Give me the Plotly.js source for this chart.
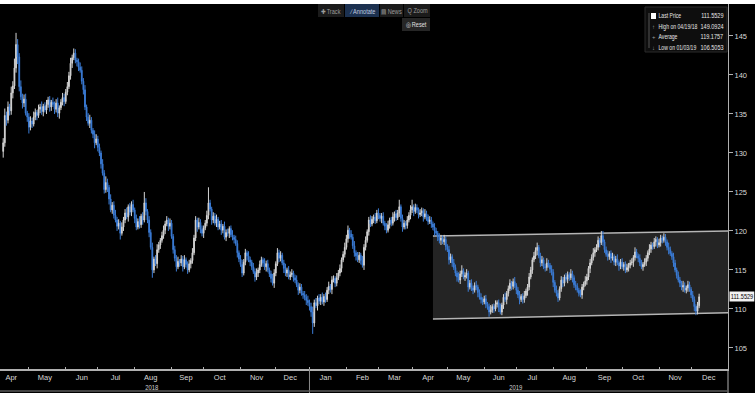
<!DOCTYPE html>
<html><head><meta charset="utf-8">
<script src="https://cdn.plot.ly/plotly-3.0.1.min.js"></script>
<style>html,body{margin:0;padding:0;background:#000;overflow:hidden}#chart{width:755px;height:393px}</style>
</head><body><div id="chart"></div>
<script>
// ---------- data ----------
const startDate = '2018-04-09';          // first trading day shown
const firstOpen = 130.2;
const closes = [
131.3,134.8,134.2,135.9,135.4,137.7,138.6,140.9,143.9,142.3,
138.5,137.2,136.4,136.9,135.1,134.6,133.3,134.1,133.7,134.6,
135.2,134.8,135.6,135.9,135.3,136.0,135.5,136.2,136.8,135.9,
136.5,136.2,135.6,136.4,135.1,135.8,136.5,137.1,136.6,137.8,
138.5,139.9,141.5,142.2,142.8,141.9,141.7,141.0,140.6,139.2,
138.1,135.9,134.6,133.8,134.2,132.9,132.4,131.3,131.8,130.7,
130.0,128.6,127.4,125.3,126.2,125.6,124.1,122.7,123.3,122.0,
121.4,120.6,121.0,119.7,120.5,121.4,122.3,121.8,123.1,122.4,
123.4,122.7,121.6,120.5,121.2,120.8,121.9,121.4,123.6,122.5,
121.4,119.8,117.9,115.0,116.4,115.8,117.6,118.2,118.8,119.4,
120.1,120.9,121.4,120.6,121.0,119.3,117.6,116.5,115.4,116.1,
115.9,116.4,115.4,116.3,115.7,115.0,115.8,116.2,117.2,119.1,
121.4,120.5,121.1,120.2,119.7,120.4,121.0,122.0,123.6,122.8,
121.4,121.9,121.0,121.5,120.5,120.9,120.1,120.6,119.2,119.8,
119.7,120.3,119.5,119.2,118.9,118.4,117.2,116.4,115.7,114.6,
116.0,117.2,116.8,116.3,116.0,115.4,114.8,114.1,114.6,115.0,
115.7,116.3,115.9,115.4,115.8,115.0,114.5,113.9,113.3,114.6,
115.8,117.2,116.5,116.9,115.9,115.2,114.6,115.0,114.1,114.4,
114.6,114.0,113.7,113.1,112.4,112.8,112.0,111.8,111.5,111.1,
110.8,110.3,109.6,108.2,110.8,110.4,111.4,111.0,111.5,110.9,
111.6,111.2,112.4,112.9,112.5,113.7,113.9,113.3,114.0,114.6,
115.2,116.3,117.0,117.9,119.0,120.1,119.6,119.2,118.1,117.2,
116.8,116.3,116.9,116.2,115.6,117.9,118.8,119.9,121.4,120.9,
121.5,121.8,121.3,122.3,122.0,121.6,121.9,121.0,120.6,120.1,
120.8,121.4,121.0,121.8,122.2,121.7,122.3,123.1,121.6,120.5,
121.0,120.7,121.4,122.0,122.7,123.1,122.5,123.0,122.7,122.1,
122.3,122.6,121.8,122.2,121.8,121.2,121.4,120.9,120.5,120.0,
119.7,119.2,118.8,119.1,118.6,118.9,118.0,117.6,116.3,116.7,
115.9,115.3,114.6,114.1,113.7,114.5,114.9,114.1,114.3,114.6,
112.8,113.3,112.7,112.4,113.0,112.8,112.1,111.5,111.2,110.9,
111.3,110.6,110.3,109.6,109.9,110.3,110.0,110.6,110.8,110.2,
109.6,110.5,111.5,111.2,112.0,112.6,113.3,112.9,113.5,113.0,
112.4,111.8,111.2,111.6,111.2,111.7,112.3,112.8,114.1,115.0,
116.3,116.8,117.5,117.9,116.8,115.9,116.3,115.4,115.3,115.9,
115.6,115.1,114.7,113.4,112.4,112.0,111.4,112.6,113.7,113.3,
114.1,113.8,114.4,114.0,114.5,114.0,113.1,112.9,112.4,112.0,
111.8,112.8,113.2,113.6,114.1,115.2,115.9,116.6,117.2,117.6,
117.9,118.8,118.5,119.4,118.6,117.6,117.0,116.7,117.1,116.5,
116.7,116.0,116.4,115.9,115.5,116.0,115.4,115.7,115.0,115.3,
115.6,115.9,116.0,116.6,117.3,116.8,116.5,115.9,115.4,115.7,
116.0,116.5,117.2,117.7,118.2,118.0,118.6,118.9,118.2,118.5,
119.1,118.8,119.2,118.6,117.9,117.6,117.1,116.7,115.9,115.0,
114.3,113.7,113.3,112.8,113.0,112.4,112.7,113.1,112.5,111.8,
111.2,110.3,109.7,110.4,111.5529
];
// intraday wick lengths above / below the candle body (price units)
const upWick = [
0.6,0.9,0.5,0.7,0.4,0.8,0.6,1.2,1.5,0.7, 0.5,0.8,0.4,0.6,0.7,0.3,0.5,0.6,0.4,0.7,
0.5,0.3,0.6,0.4,0.7,0.3,0.5,0.6,0.4,0.5, 0.3,0.6,0.4,0.5,0.7,0.3,0.4,0.6,0.5,0.4,
0.6,0.5,0.7,0.4,0.6,0.5,0.3,0.4,0.6,0.5, 0.4,0.6,0.3,0.5,0.7,0.4,0.3,0.5,0.6,0.4,
0.5,0.3,0.6,0.4,0.8,0.5,0.3,0.6,0.4,0.5, 0.7,0.4,0.5,0.3,0.6,0.4,0.5,0.7,0.3,0.5,
0.4,0.6,0.3,0.5,0.4,0.7,0.3,0.5,0.4,0.6, 0.3,0.5,0.4,0.6,0.3,0.5,0.7,0.4,0.3,0.5,
0.6,0.4,0.5,0.3,0.6,0.4,0.3,0.5,0.4,0.6, 0.3,0.5,0.4,0.6,0.3,0.4,0.5,0.3,0.6,0.4,
0.5,0.3,0.6,0.4,0.5,0.3,0.4,0.6,0.5,0.4, 0.3,0.5,0.4,0.6,0.3,0.4,0.5,0.3,0.6,0.4,
0.5,0.3,0.4,0.6,0.3,0.5,0.4,0.3,0.5,0.6, 0.4,0.5,0.3,0.6,0.4,0.3,0.5,0.4,0.6,0.3,
0.5,0.4,0.3,0.6,0.4,0.5,0.3,0.4,0.6,0.5, 0.3,0.6,0.4,0.5,0.3,0.4,0.6,0.3,0.5,0.4,
0.5,0.3,0.4,0.6,0.3,0.5,0.4,0.3,0.5,0.4, 0.6,0.4,0.5,0.7,0.4,0.6,0.3,0.5,0.4,0.6,
0.3,0.5,0.4,0.6,0.3,0.5,0.4,0.3,0.6,0.4, 0.5,0.3,0.4,0.6,0.5,0.4,0.3,0.5,0.4,0.6,
0.3,0.5,0.4,0.3,0.6,0.4,0.5,0.3,0.4,0.6, 0.4,0.3,0.5,0.4,0.6,0.3,0.4,0.5,0.3,0.4,
0.5,0.3,0.4,0.6,0.3,0.5,0.4,0.6,0.3,0.5, 0.4,0.3,0.5,0.4,0.6,0.7,0.3,0.5,0.4,0.3,
0.5,0.4,0.3,0.6,0.4,0.3,0.5,0.4,0.3,0.5, 0.4,0.3,0.5,0.4,0.3,0.6,0.4,0.3,0.5,0.4,
0.3,0.5,0.4,0.3,0.6,0.4,0.7,0.3,0.4,0.5, 0.3,0.4,0.5,0.3,0.4,0.6,0.3,0.4,0.5,0.3,
0.4,0.5,0.3,0.4,0.6,0.3,0.4,0.5,0.3,0.4, 0.5,0.3,0.4,0.6,0.3,0.4,0.5,0.3,0.4,0.6,
0.3,0.4,0.5,0.3,0.4,0.6,0.3,0.4,0.5,0.4, 0.3,0.5,0.4,0.6,0.3,0.4,0.5,0.3,0.4,0.6,
0.4,0.3,0.5,0.4,0.3,0.6,0.4,0.3,0.5,0.4, 0.3,0.5,0.4,0.3,0.6,0.4,0.3,0.5,0.4,0.3,
0.5,0.4,0.3,0.6,0.4,0.3,0.5,0.4,0.6,0.3, 0.4,0.5,0.3,0.4,0.6,0.3,0.4,0.5,0.3,0.4,
0.5,0.3,0.4,0.6,0.3,0.4,0.5,0.3,0.4,0.5, 0.3,0.4,0.5,0.3,0.6,0.4,0.3,0.5,0.4,0.3,
0.5,0.4,0.3,0.6,0.4,0.3,0.5,0.4,0.3,0.5, 0.4,0.3,0.5,0.4,0.3,0.6,0.4,0.3,0.5,0.4,
0.3,0.5,0.4,0.3,0.6,0.4,0.3,0.5,0.4,0.3, 0.5,0.4,0.3,0.5,0.4
];
const downWick = [
0.8,0.5,0.7,0.4,0.6,0.5,0.7,0.4,0.6,0.9, 0.6,0.4,0.7,0.5,0.3,0.6,0.8,0.4,0.5,0.3,
0.4,0.6,0.3,0.5,0.4,0.6,0.3,0.5,0.4,0.6, 0.5,0.3,0.6,0.4,0.5,0.7,0.3,0.4,0.6,0.3,
0.4,0.3,0.5,0.6,0.3,0.4,0.6,0.5,0.3,0.4, 0.6,0.4,0.5,0.3,0.6,0.4,0.5,0.7,0.3,0.5,
0.4,0.6,0.3,0.5,0.4,0.6,0.7,0.3,0.5,0.4, 0.3,0.6,0.4,0.8,0.3,0.5,0.4,0.3,0.6,0.4,
0.5,0.3,0.6,0.4,0.3,0.5,0.4,0.6,0.3,0.5, 0.4,0.6,0.3,0.5,0.4,0.3,0.6,0.4,0.5,0.3,
0.4,0.5,0.3,0.6,0.4,0.3,0.5,0.4,0.6,0.3, 0.5,0.4,0.6,0.3,0.4,0.5,0.3,0.6,0.4,0.3,
0.4,0.6,0.3,0.5,0.4,0.6,0.3,0.4,0.5,0.3, 0.6,0.4,0.3,0.5,0.4,0.3,0.6,0.4,0.3,0.5,
0.4,0.6,0.3,0.4,0.5,0.3,0.6,0.4,0.3,0.5, 0.3,0.4,0.6,0.3,0.5,0.4,0.3,0.6,0.4,0.5,
0.4,0.3,0.5,0.4,0.6,0.3,0.4,0.5,0.3,0.6, 0.4,0.3,0.5,0.4,0.3,0.6,0.4,0.5,0.3,0.4,
0.3,0.5,0.4,0.3,0.6,0.4,0.3,0.5,0.4,0.6, 0.4,0.5,0.6,0.4,0.5,0.3,0.6,0.4,0.5,0.3,
0.5,0.4,0.3,0.5,0.4,0.6,0.3,0.5,0.4,0.3, 0.4,0.5,0.3,0.4,0.3,0.5,0.6,0.3,0.4,0.5,
0.6,0.3,0.4,0.5,0.3,0.6,0.4,0.3,0.5,0.4, 0.3,0.5,0.4,0.3,0.5,0.4,0.6,0.3,0.5,0.4,
0.3,0.5,0.4,0.3,0.6,0.4,0.3,0.5,0.4,0.6, 0.3,0.5,0.4,0.3,0.5,0.4,0.6,0.3,0.4,0.5,
0.3,0.4,0.6,0.3,0.5,0.4,0.3,0.5,0.4,0.6, 0.3,0.5,0.4,0.6,0.3,0.4,0.5,0.3,0.6,0.4,
0.5,0.3,0.4,0.6,0.3,0.5,0.4,0.3,0.5,0.4, 0.6,0.3,0.4,0.5,0.3,0.4,0.6,0.3,0.5,0.4,
0.3,0.5,0.4,0.6,0.3,0.4,0.5,0.3,0.4,0.6, 0.3,0.4,0.5,0.3,0.6,0.4,0.3,0.5,0.4,0.3,
0.5,0.4,0.6,0.3,0.5,0.4,0.3,0.6,0.4,0.3, 0.5,0.3,0.4,0.6,0.3,0.5,0.4,0.3,0.5,0.4,
0.3,0.5,0.4,0.6,0.3,0.4,0.5,0.3,0.4,0.5, 0.4,0.3,0.5,0.4,0.3,0.6,0.4,0.5,0.3,0.4,
0.3,0.5,0.4,0.3,0.5,0.4,0.6,0.3,0.4,0.5, 0.3,0.4,0.6,0.3,0.5,0.4,0.3,0.5,0.4,0.6,
0.3,0.4,0.5,0.3,0.6,0.4,0.3,0.5,0.4,0.3, 0.5,0.4,0.3,0.6,0.4,0.3,0.5,0.4,0.3,0.5,
0.3,0.5,0.4,0.3,0.5,0.4,0.3,0.6,0.4,0.3, 0.5,0.4,0.3,0.5,0.4,0.6,0.3,0.4,0.5,0.3,
0.4,0.3,0.5,0.4,0.6,0.3,0.4,0.5,0.3,0.4, 0.3,0.6,0.5,0.4,0.3
];
// visible wick extremes
const wickHighIdx = [8, 44, 88, 128, 215, 247, 255, 333, 373, 412];
const wickHighVal = [145.4, 143.2, 125.0, 125.6, 120.7, 124.0, 124.0, 118.5, 120.0, 119.6];
const wickLowIdx = [0, 93, 193];
const wickLowVal = [129.6, 114.0, 106.8];

const yTickVals = [105,110,115,120,125,130,135,140,145];
const monthLabelStart = '2018-04', monthLabelCount = 21;
const legendLabels = ['Last Price','High on 04/19/18','Average','Low on 01/03/19'];
const legendValues = ['111.5529','149.0924','119.1757','106.5053'];
const legendIcons = ['','\u2191','+','\u2193'];
const lastPrice = 111.5529;
const yearLabels = ['2018','2019'];
const yearLabelDates = ['2018-08-16','2019-07-01'];
const channelDates = ['2019-04-18','2020-01-01'];
const channelTop = [119.35, 120.0];
const channelBottom = [108.7, 109.5];
const toolbarItems = ['\u271A Track','\u2215 Annotate','\u25A4 News','Q Zoom'];

// ---------- build ----------
function weekdays(start, n){
  const out=[]; const d=new Date(start+'T00:00:00Z');
  while(out.length<n){ const w=d.getUTCDay(); if(w!==0&&w!==6) out.push(d.toISOString().slice(0,10)); d.setUTCDate(d.getUTCDate()+1); }
  return out;
}
const dates = weekdays(startDate, closes.length);
const opens = [firstOpen].concat(closes.slice(0,-1));
const highs = closes.map((c,i)=>Math.max(c,opens[i])+upWick[i]);
const lows = closes.map((c,i)=>Math.min(c,opens[i])-downWick[i]);
wickHighIdx.forEach((k,j)=>{highs[k]=Math.max(highs[k],wickHighVal[j]);});
wickLowIdx.forEach((k,j)=>{lows[k]=Math.min(lows[k],wickLowVal[j]);});

// month labels sit mid-month on a weekday (weekends are removed from the axis)
const monthMid = [];
{ let [yy,mm]=monthLabelStart.split('-').map(Number);
  for(let i=0;i<monthLabelCount;i++){
    const d=new Date(Date.UTC(yy,mm-1,15)); const w=d.getUTCDay();
    if(w===6) d.setUTCDate(14); if(w===0) d.setUTCDate(16);
    monthMid.push(d.toISOString().slice(0,10)); mm++; if(mm>12){mm=1;yy++;} } }

const W=728, T=4, B=369, H=B-T;
const px = x=>x/W, py = y=>(B-y)/H;
const FONT = "'Liberation Sans', Arial, sans-serif";

const trace = {
  type:'candlestick', x:dates, open:opens, high:highs, low:lows, close:closes,
  increasing:{line:{color:'#d4d4d4',width:1}, fillcolor:'#d4d4d4'},
  decreasing:{line:{color:'#3b7cd6',width:1}, fillcolor:'#3b7cd6'},
  whiskerwidth:0, hoverinfo:'skip', showlegend:false
};

const shapes = [
  {type:'path', xref:'x', yref:'y', layer:'below',
   path:`M ${channelDates[0]} ${channelTop[0]} L ${channelDates[1]} ${channelTop[1]} L ${channelDates[1]} ${channelBottom[1]} L ${channelDates[0]} ${channelBottom[0]} Z`,
   fillcolor:'#242424', line:{width:0}},
  {type:'line', xref:'x', yref:'y', layer:'below', x0:channelDates[0], y0:channelTop[0], x1:channelDates[1], y1:channelTop[1], line:{color:'#b5b5b5', width:1.5}},
  {type:'line', xref:'x', yref:'y', layer:'below', x0:channelDates[0], y0:channelBottom[0], x1:channelDates[1], y1:channelBottom[1], line:{color:'#b5b5b5', width:1.5}},
  {type:'rect', xref:'paper', yref:'paper', x0:-0.01, x1:1.05, y0:1, y1:py(0)+0.01, fillcolor:'#ffffff', line:{width:0}},
  {type:'line', xref:'x', yref:'paper', x0:'2019-01-01', x1:'2019-01-01', y0:0, y1:py(393), line:{color:'#8a8a8a', width:1}},
  {type:'line', xref:'paper', yref:'paper', x0:1, x1:1, y0:0, y1:py(393), line:{color:'#b0b0b0', width:1}},
  {type:'line', xref:'paper', yref:'paper', x0:0, x1:1, y0:py(391), y1:py(391), line:{color:'#5a5a5a', width:1.5}},
  {type:'rect', xref:'paper', yref:'paper', x0:px(645), x1:px(727), y0:py(7), y1:py(52), fillcolor:'#0e0e0e', line:{color:'#2a2a2a', width:1}},
  {type:'line', xref:'paper', yref:'paper', x0:px(649), x1:px(649), y0:py(13), y1:py(48), line:{color:'#555', width:1}},
  {type:'rect', xref:'paper', yref:'paper', x0:px(651), x1:px(656), y0:py(13), y1:py(19), fillcolor:'#ffffff', line:{width:0}},
  {type:'rect', xref:'paper', yref:'paper', x0:px(318), x1:px(344), y0:py(4), y1:py(17), fillcolor:'#1b1b1b', line:{width:0}},
  {type:'rect', xref:'paper', yref:'paper', x0:px(345), x1:px(379), y0:py(4), y1:py(17), fillcolor:'#1c3150', line:{width:0}},
  {type:'rect', xref:'paper', yref:'paper', x0:px(380), x1:px(403), y0:py(4), y1:py(17), fillcolor:'#1b1b1b', line:{width:0}},
  {type:'rect', xref:'paper', yref:'paper', x0:px(404), x1:px(430), y0:py(4), y1:py(17), fillcolor:'#1b1b1b', line:{width:0}},
  {type:'rect', xref:'paper', yref:'paper', x0:px(402), x1:px(430), y0:py(18), y1:py(31), fillcolor:'#262626', line:{width:0}}
];

// annotations; `squeeze` lists [index, horizontal scale, anchor] for narrow (condensed) text
const annotations = [], squeeze = [];
function addAnn(a, s, anchor){ annotations.push(a); if(s) squeeze.push([annotations.length-1, s, anchor]); }
const toolbarX = [331, 362, 391, 417];
toolbarItems.forEach((t,i)=>addAnn({xref:'paper', yref:'paper', x:px(toolbarX[i]), y:py(11), text:t, showarrow:false,
  xanchor:'center', yanchor:'middle', font:{family:FONT, size:7, color: i===1?'#c0cce0':'#9c9c9c'}}, 0.8, 'center'));
addAnn({xref:'paper', yref:'paper', x:px(416), y:py(25), text:'\u25CE Reset', showarrow:false, xanchor:'center', yanchor:'middle', font:{family:FONT, size:7, color:'#e0e0e0'}}, 0.8, 'center');
const rowY = [16, 26.5, 37, 47.5];
legendLabels.forEach((t,i)=>{
  addAnn({xref:'paper', yref:'paper', x:px(657), y:py(rowY[i]), text:t, showarrow:false, xanchor:'left', yanchor:'middle', font:{family:FONT, size:7.5, color:'#e6e6e6'}}, 0.68, 'left');
  addAnn({xref:'paper', yref:'paper', x:px(725), y:py(rowY[i]), text:legendValues[i], showarrow:false, xanchor:'right', yanchor:'middle', font:{family:FONT, size:7.5, color:'#e6e6e6'}}, 0.74, 'right');
  if(legendIcons[i]) addAnn({xref:'paper', yref:'paper', x:px(653.5), y:py(rowY[i]), text:legendIcons[i], showarrow:false, xanchor:'center', yanchor:'middle', font:{family:FONT, size:6, color:'#9a9a9a'}});
});
yearLabels.forEach((t,i)=>addAnn({xref:'x', yref:'paper', x:yearLabelDates[i], y:py(387), text:t, showarrow:false, xanchor:'center', yanchor:'middle', font:{family:FONT, size:7, color:'#cfcfcf'}}, 0.85, 'center'));
addAnn({xref:'paper', yref:'y', x:1, xshift:1, y:lastPrice, text:String(lastPrice), showarrow:false, xanchor:'left', yanchor:'middle',
  bgcolor:'#f2f2f2', borderpad:1, font:{family:FONT, size:7, color:'#000'}}, 0.8, 'left');

const layout = {
  width:755, height:393,
  margin:{l:0, r:27, t:T, b:393-B, pad:0},
  paper_bgcolor:'#000', plot_bgcolor:'#000',
  showlegend:false, dragmode:false,
  xaxis:{type:'date', range:['2018-04-05','2020-01-01'], rangebreaks:[{bounds:['sat','mon']}],
    rangeslider:{visible:false}, tickmode:'array', tickvals:monthMid, tickformat:'%b', ticks:'',
    minor:{tick0:'2018-04-01', dtick:'M1', ticks:'inside', ticklen:2, tickcolor:'#b0b0b0', showgrid:false},
    showgrid:false, zeroline:false, showline:true, linecolor:'#b0b0b0', linewidth:1.5,
    tickfont:{family:FONT, size:7.5, color:'#d8d8d8'}, fixedrange:true},
  yaxis:{side:'right', range:[102.3, 149.1], tickvals:yTickVals, ticktext:yTickVals.map(String),
    showgrid:false, zeroline:false, showline:true, linecolor:'#b0b0b0', linewidth:1,
    ticks:'outside', ticklen:4, tickcolor:'#b0b0b0', tickfont:{family:FONT, size:7.5, color:'#d8d8d8'}, fixedrange:true},
  shapes:shapes, annotations:annotations
};
Plotly.newPlot('chart', [trace], layout, {staticPlot:true, displayModeBar:false}).then(()=>{
  squeeze.forEach(([idx, s, anchor])=>{
    const g = document.querySelector(`g.annotation[data-index="${idx}"]`);
    if(!g) return;
    const bb = g.getBBox();
    const ax = anchor==='left' ? bb.x : anchor==='right' ? bb.x+bb.width : bb.x+bb.width/2;
    g.setAttribute('transform', `translate(${ax},0) scale(${s},1) translate(${-ax},0)`);
  });
});
</script></body></html>
